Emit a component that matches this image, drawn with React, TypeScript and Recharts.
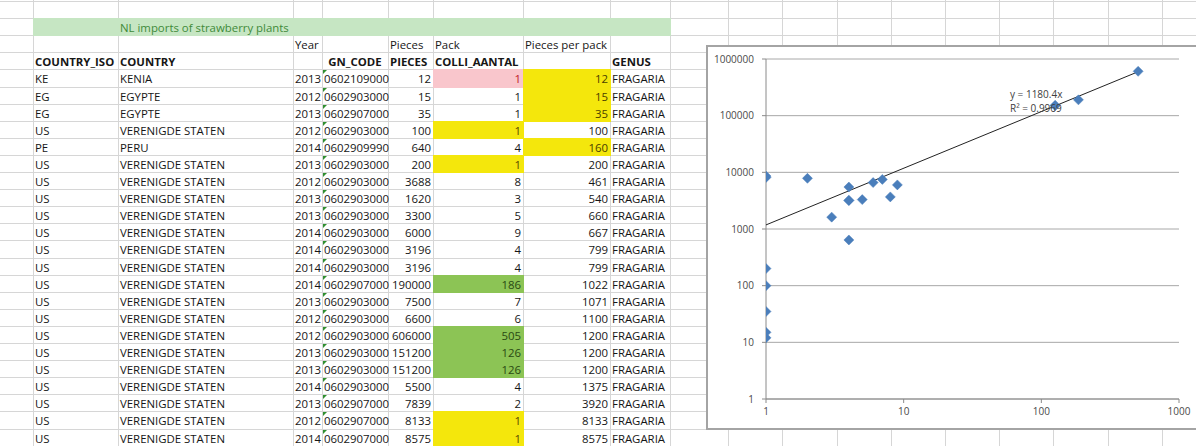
import React from "react";
import { CartesianGrid, Scatter, ScatterChart, XAxis, YAxis } from "recharts";

// sheet contents
const isoCodes = ["KE", "EG", "EG", "US", "PE", "US", "US", "US", "US", "US", "US", "US", "US", "US", "US", "US", "US", "US", "US", "US", "US", "US"];
const countries = ["KENIA", "EGYPTE", "EGYPTE", "VERENIGDE STATEN", "PERU", "VERENIGDE STATEN", "VERENIGDE STATEN", "VERENIGDE STATEN", "VERENIGDE STATEN", "VERENIGDE STATEN", "VERENIGDE STATEN", "VERENIGDE STATEN", "VERENIGDE STATEN", "VERENIGDE STATEN", "VERENIGDE STATEN", "VERENIGDE STATEN", "VERENIGDE STATEN", "VERENIGDE STATEN", "VERENIGDE STATEN", "VERENIGDE STATEN", "VERENIGDE STATEN", "VERENIGDE STATEN"];
const years = [2013, 2012, 2013, 2012, 2014, 2013, 2012, 2013, 2013, 2014, 2014, 2014, 2014, 2013, 2012, 2012, 2013, 2013, 2014, 2013, 2012, 2014];
const gnCodes = ["0602109000", "0602903000", "0602907000", "0602903000", "0602909990", "0602903000", "0602903000", "0602903000", "0602903000", "0602903000", "0602903000", "0602903000", "0602907000", "0602903000", "0602903000", "0602903000", "0602903000", "0602903000", "0602903000", "0602907000", "0602907000", "0602907000"];
const pieces = [12, 15, 35, 100, 640, 200, 3688, 1620, 3300, 6000, 3196, 3196, 190000, 7500, 6600, 606000, 151200, 151200, 5500, 7839, 8133, 8575];
const packs = [1, 1, 1, 1, 4, 1, 8, 3, 5, 9, 4, 4, 186, 7, 6, 505, 126, 126, 4, 2, 1, 1];
const piecesPerPack = [12, 15, 35, 100, 160, 200, 461, 540, 660, 667, 799, 799, 1022, 1071, 1100, 1200, 1200, 1200, 1375, 3920, 8133, 8575];
const genus = "FRAGARIA";

const title = "NL imports of strawberry plants";
const subHeaders = ["Year", "Pieces", "Pack", "Pieces per pack"];
const headers = ["COUNTRY_ISO", "COUNTRY", "GN_CODE", "PIECES", "COLLI_AANTAL", "GENUS"];

const xTicks = [1, 10, 100, 1000];
const yTicks = [1, 10, 100, 1000, 10000, 100000, 1000000];

// highlighted rows (index into data rows)
const pinkPackRows = [0];
const yellowPackRows = [3, 5, 20, 21];
const greenPackRows = [12, 15, 16, 17];
const yellowPerPackRows = [0, 1, 2, 4];

// layout of the sheet
const COLS = [0, 33, 118, 293, 322, 388, 433, 523, 610, 670, 728, 782, 837, 891, 945, 999, 1053, 1108, 1162, 1216];
const ROW_H = 17.1;
const ROW_COUNT = 27;
const FIRST_DATA = 4;
const edge = (r: number) => Math.round(1 + r * ROW_H);

const GRID = "#d6d6d6";
const FONT = "'Open Sans', sans-serif";

const scatterData = packs.map((x, i) => ({ x, y: pieces[i] }));

// linear trendline through origin (least squares)
const sxy = packs.reduce((s, x, i) => s + x * pieces[i], 0);
const sxx = packs.reduce((s, x) => s + x * x, 0);
const slope = sxy / sxx;
const minX = Math.min(...packs);
const maxX = Math.max(...packs);
const trendData = [
  { x: minX, y: slope * minX },
  { x: maxX, y: slope * maxX },
];

type CellProps = {
  c: number;
  r: number;
  text?: string | number;
  align?: "left" | "right" | "center";
  bold?: boolean;
  fill?: string;
  color?: string;
  span?: number;
  triangle?: boolean;
};

const Cell = ({ c, r, text, align = "left", bold, fill, color = "#161616", span = 1, triangle }: CellProps) => {
  const left = COLS[c];
  const right = COLS[c + span];
  const top = edge(r);
  const bottom = edge(r + 1);
  return (
    <>
      {fill && (
        <div
          style={{
            position: "absolute",
            left,
            top,
            width: right - left + 1,
            height: bottom - top + 1,
            background: fill,
          }}
        />
      )}
      {text !== undefined && (
        <div
          style={{
            position: "absolute",
            left: left + 2,
            top: top + 1,
            width: right - left - 4,
            height: bottom - top,
            lineHeight: `${bottom - top}px`,
            fontSize: 11.4,
            fontFamily: FONT,
            fontWeight: bold ? 700 : 400,
            color,
            textAlign: align,
            whiteSpace: "nowrap",
          }}
        >
          {text}
        </div>
      )}
      {triangle && (
        <div
          style={{
            position: "absolute",
            left: left + 1,
            top: top + 1,
            width: 0,
            height: 0,
            borderTop: "4px solid #2f8f2f",
            borderRight: "4px solid transparent",
          }}
        />
      )}
    </>
  );
};

const Diamond = (props: any) => {
  const { cx, cy } = props;
  if (cx == null || cy == null) return <g />;
  const s = 5;
  return (
    <polygon
      points={`${cx},${cy - s} ${cx + s},${cy} ${cx},${cy + s} ${cx - s},${cy}`}
      fill="#4a7ebb"
      stroke="#4a7ebb"
      strokeWidth={0.5}
    />
  );
};

const Sheet = () => {
  const vLines = COLS.slice(1);
  const hLines = Array.from({ length: ROW_COUNT }, (_, i) => edge(i));
  return (
    <>
      {vLines.map((x) => (
        <div key={`v${x}`} style={{ position: "absolute", left: x, top: 0, width: 1, height: 446, background: GRID }} />
      ))}
      {hLines.map((y) => (
        <div key={`h${y}`} style={{ position: "absolute", left: 0, top: y, width: 1196, height: 1, background: GRID }} />
      ))}

      {/* title band */}
      <Cell c={1} r={1} span={8} fill="#c6e6c3" />
      <Cell c={2} r={1} span={4} text={title} color="#3f8a3a" />

      {/* sub headers */}
      <Cell c={3} r={2} text={subHeaders[0]} />
      <Cell c={5} r={2} text={subHeaders[1]} />
      <Cell c={6} r={2} text={subHeaders[2]} />
      <Cell c={7} r={2} text={subHeaders[3]} />

      {/* headers */}
      <Cell c={1} r={3} text={headers[0]} bold />
      <Cell c={2} r={3} text={headers[1]} bold />
      <Cell c={4} r={3} text={headers[2]} bold align="center" />
      <Cell c={5} r={3} text={headers[3]} bold />
      <Cell c={6} r={3} text={headers[4]} bold />
      <Cell c={8} r={3} text={headers[5]} bold />

      {isoCodes.map((iso, i) => {
        const r = FIRST_DATA + i;
        let packFill: string | undefined;
        let packColor = "#161616";
        if (pinkPackRows.includes(i)) {
          packFill = "#f9c6cc";
          packColor = "#c0202a";
        } else if (yellowPackRows.includes(i)) {
          packFill = "#f4e70c";
          packColor = "#5a4a00";
        } else if (greenPackRows.includes(i)) {
          packFill = "#8cc455";
          packColor = "#2a4a12";
        }
        const perFill = yellowPerPackRows.includes(i) ? "#f4e70c" : undefined;
        return (
          <React.Fragment key={i}>
            <Cell c={1} r={r} text={iso} />
            <Cell c={2} r={r} text={countries[i]} />
            <Cell c={3} r={r} text={years[i]} align="right" />
            <Cell c={4} r={r} text={gnCodes[i]} triangle />
            <Cell c={5} r={r} text={pieces[i]} align="right" />
            <Cell c={6} r={r} text={packs[i]} align="right" fill={packFill} color={packColor} />
            <Cell c={7} r={r} text={piecesPerPack[i]} align="right" fill={perFill} color={perFill ? "#4a4000" : "#161616"} />
            <Cell c={8} r={r} text={genus} />
          </React.Fragment>
        );
      })}
    </>
  );
};

const tickStyle = { fontSize: 10, fill: "#4a4a4a", fontFamily: FONT };

const Chart = () => (
  <div
    style={{
      position: "absolute",
      left: 706,
      top: 45,
      width: 509,
      height: 381,
      border: "2px solid #a4a4a4",
      background: "#fff",
    }}
  >
    <ScatterChart width={509} height={381} margin={{ top: 12, right: 38, bottom: 0, left: 0 }}>
      <CartesianGrid vertical={false} stroke="#a8a8a8" />
      <XAxis
        type="number"
        dataKey="x"
        scale="log"
        domain={[1, 1000]}
        ticks={xTicks}
        interval={0}
        allowDataOverflow
        height={29}
        tickSize={4}
        tickMargin={5}
        stroke="#8a8a8a"
        tick={tickStyle}
      />
      <YAxis
        type="number"
        dataKey="y"
        scale="log"
        domain={[1, 1000000]}
        ticks={yTicks}
        interval={0}
        allowDataOverflow
        width={58}
        tickSize={4}
        tickMargin={8}
        stroke="#8a8a8a"
        tick={tickStyle}
        tickFormatter={(v: number) => String(v)}
      />
      <Scatter
        data={trendData}
        line={{ stroke: "#222", strokeWidth: 1 }}
        shape={() => <g />}
        isAnimationActive={false}
      />
      <Scatter data={scatterData} shape={Diamond} isAnimationActive={false} />
    </ScatterChart>
    <div style={{ position: "absolute", left: 302, top: 40, fontSize: 10, fontFamily: FONT, color: "#404040", lineHeight: "14px", whiteSpace: "nowrap" }}>
      {`y = ${slope.toFixed(1)}x`}
      <br />
      R² = 0.9969
    </div>
  </div>
);

export default function App() {
  return (
    <div
      style={{
        position: "absolute",
        left: 0,
        top: 0,
        width: 1196,
        height: 446,
        overflow: "hidden",
        background: "#fff",
      }}
    >
      <Sheet />
      <Chart />
    </div>
  );
}
